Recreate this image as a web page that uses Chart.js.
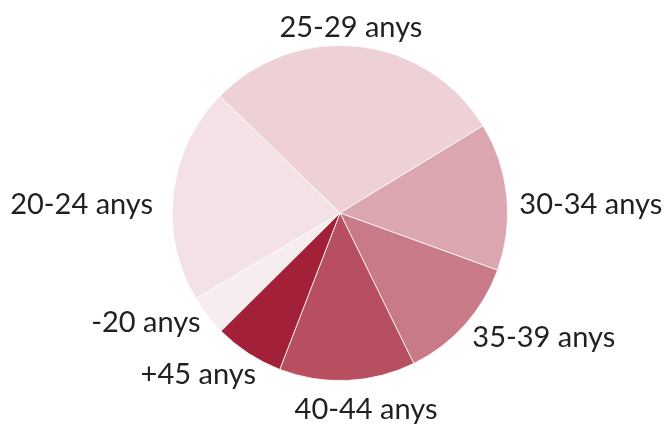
<!DOCTYPE html>
<html>
<head>
<meta charset="utf-8">
<script src="https://cdn.jsdelivr.net/npm/chart.js@4"></script>
<style>
  html, body { margin: 0; padding: 0; background: #fff; }
  #wrap { width: 668px; height: 428px; }
</style>
</head>
<body>
<div id="wrap"><canvas id="chart" width="668" height="428"></canvas></div>
<script>
// share of each age group (%), in clockwise order starting at -20
const labels = ['-20 anys', '20-24 anys', '25-29 anys', '30-34 anys', '35-39 anys', '40-44 anys', '+45 anys']
const shares = [3.9, 20.8, 29.0, 14.25, 12.2, 13.1, 6.7]
const colors = ['#f7ecee', '#f3e1e5', '#edd1d7', '#dba6b0', '#c87a87', '#b84f60', '#a32039']

// labels sit just outside each slice, a few nudged by hand
const labelNudge = [[-9, -8], [-9, 14], [-17, 5], [1, 11], [17, -3], [15, 5], [-12, 1]]

const outsideLabels = {
  id: 'outsideLabels',
  afterDraw(chart) {
    const ctx = chart.ctx
    const arcs = chart.getDatasetMeta(0).data
    ctx.save()
    ctx.font = '29px Lato'
    ctx.fillStyle = '#231f20'
    ctx.textAlign = 'center'
    ctx.textBaseline = 'middle'
    arcs.forEach((arc, i) => {
      const mid = (arc.startAngle + arc.endAngle) / 2
      const r = arc.outerRadius + 12
      const w = ctx.measureText(labels[i]).width
      const cos = Math.cos(mid), sin = Math.sin(mid)
      const x = arc.x + r * cos + (w / 2) * cos + labelNudge[i][0]
      const y = arc.y + r * sin + 12 * sin + labelNudge[i][1]
      ctx.fillText(labels[i], x, y)
    })
    ctx.restore()
  }
}

new Chart(document.getElementById('chart'), {
  type: 'pie',
  data: {
    labels: labels,
    datasets: [{
      data: shares,
      backgroundColor: colors,
      borderColor: '#ffffff',
      borderWidth: 0.8
    }]
  },
  options: {
    responsive: false,
    animation: false,
    rotation: 225.2,
    layout: {
      padding: { top: 45, bottom: 47, left: 12, right: 0 }
    },
    plugins: {
      legend: { display: false },
      tooltip: { enabled: false }
    }
  },
  plugins: [outsideLabels]
})
</script>
</body>
</html>
